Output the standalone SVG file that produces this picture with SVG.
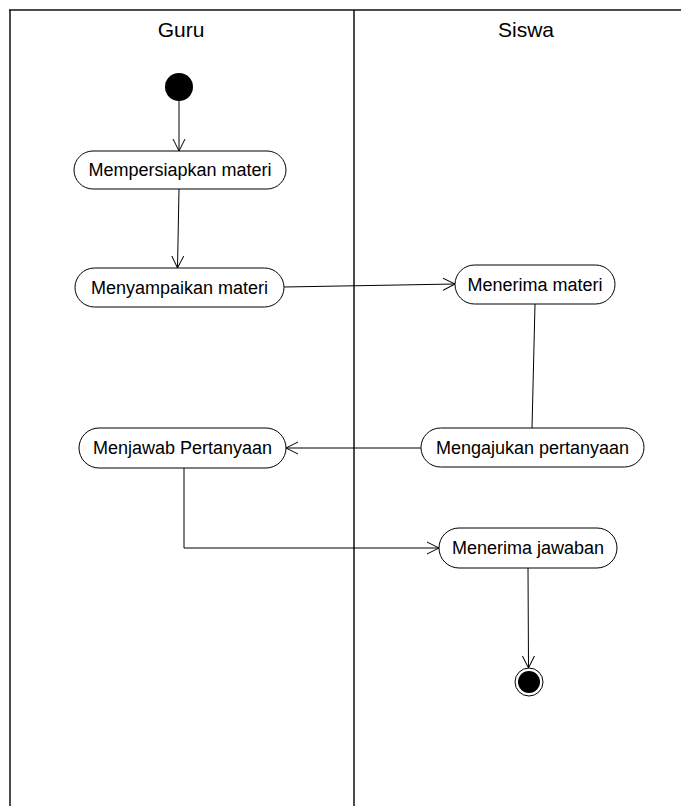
<svg xmlns="http://www.w3.org/2000/svg" width="681" height="806" viewBox="0 0 681 806">
<style>
.lane{stroke:#111;stroke-width:1.5;fill:none}
.node{fill:#fff;stroke:#000;stroke-width:1}
.lbl{font-family:"Liberation Sans",Arial,sans-serif;font-size:18px;fill:#000;text-anchor:middle;dominant-baseline:central}
.hdr{font-family:"Liberation Sans",Arial,sans-serif;font-size:21px;fill:#000;text-anchor:middle}
.conn{stroke:#000;stroke-width:1;fill:none}
</style>
<defs>
<marker id="arr" markerUnits="userSpaceOnUse" markerWidth="14" markerHeight="14" refX="12" refY="6" orient="auto" viewBox="0 0 14 12">
<path d="M0,0 L12,6 L0,12" fill="none" stroke="#000" stroke-width="1"/>
</marker>
</defs>
<rect width="681" height="806" fill="#fff"/>
<g id="lanes">
<path class="lane" d="M9,10 H681 M10,10 V806 M354,10 V806"/>
<text class="hdr" x="181" y="37">Guru</text>
<text class="hdr" x="526" y="37">Siswa</text>
</g>
<g id="connectors">
<line class="conn" x1="179" y1="101" x2="179" y2="151" marker-end="url(#arr)"/>
<line class="conn" x1="179" y1="189" x2="177.5" y2="268" marker-end="url(#arr)"/>
<line class="conn" x1="284" y1="287" x2="455" y2="284" marker-end="url(#arr)"/>
<line class="conn" x1="535" y1="304" x2="532" y2="428"/>
<line class="conn" x1="421" y1="448" x2="286" y2="448" marker-end="url(#arr)"/>
<polyline class="conn" points="184,468 184,548 439,548" marker-end="url(#arr)"/>
<line class="conn" x1="528" y1="568" x2="528.5" y2="668" marker-end="url(#arr)"/>
</g>
<g id="start"><circle cx="179" cy="87" r="14" fill="#000"/></g>
<g id="n1"><rect class="node" x="74" y="151" width="212" height="38" rx="19"/><text class="lbl" x="180" y="170">Mempersiapkan materi</text></g>
<g id="n2"><rect class="node" x="75" y="268" width="209" height="39" rx="19.5"/><text class="lbl" x="179.5" y="287.5">Menyampaikan materi</text></g>
<g id="n3"><rect class="node" x="455" y="265" width="160" height="39" rx="19.5"/><text class="lbl" x="535" y="284.5">Menerima materi</text></g>
<g id="n4"><rect class="node" x="421" y="428" width="223" height="39" rx="19.5"/><text class="lbl" x="532.5" y="447.5">Mengajukan pertanyaan</text></g>
<g id="n5"><rect class="node" x="79" y="428" width="207" height="40" rx="20"/><text class="lbl" x="182.5" y="448">Menjawab Pertanyaan</text></g>
<g id="n6"><rect class="node" x="439" y="528" width="178" height="40" rx="20"/><text class="lbl" x="528" y="548">Menerima jawaban</text></g>
<g id="end"><circle cx="529" cy="682" r="14" fill="#fff" stroke="#000" stroke-width="1"/><circle cx="529" cy="682" r="11" fill="#000"/></g>
</svg>
